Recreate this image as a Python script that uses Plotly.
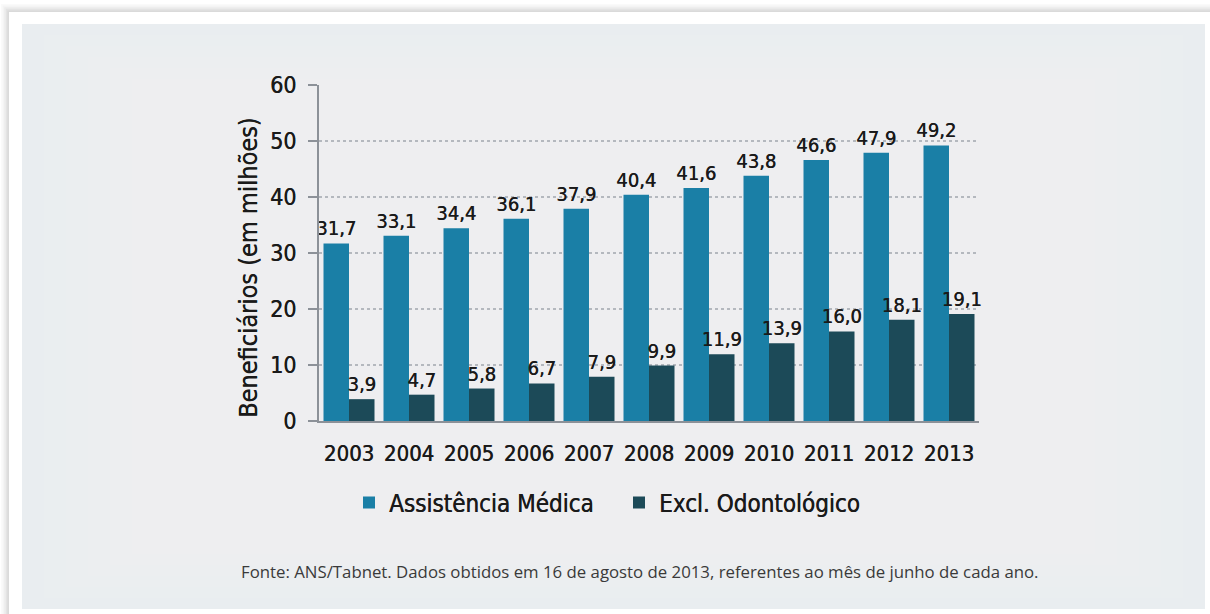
import plotly.graph_objects as go

# Beneficiários de planos de saúde, junho de cada ano (milhões)
anos = ["2003", "2004", "2005", "2006", "2007", "2008", "2009", "2010", "2011", "2012", "2013"]
assistencia_medica = [31.7, 33.1, 34.4, 36.1, 37.9, 40.4, 41.6, 43.8, 46.6, 47.9, 49.2]
excl_odontologico = [3.9, 4.7, 5.8, 6.7, 7.9, 9.9, 11.9, 13.9, 16.0, 18.1, 19.1]
y_ticks = [0, 10, 20, 30, 40, 50, 60]

COR_MEDICA = "#1a7fa6"
COR_ODONTO = "#1c4a58"
TEXTO = "#1a1a1a"
FONTE = "DejaVu Sans Condensed, DejaVu Sans, sans-serif"
SOMBRA = "0.4px 0 0 #1a1a1a"

rotulo = dict(family=FONTE, size=20, color=TEXTO, shadow=SOMBRA)

fig = go.Figure()
fig.add_trace(go.Bar(
    x=anos, y=assistencia_medica, name="Assistência Médica",
    marker=dict(color=COR_MEDICA, line=dict(width=0)),
    texttemplate="%{y:.1f}", textposition="outside", cliponaxis=False,
    constraintext="none", textfont=rotulo,
))
fig.add_trace(go.Bar(
    x=anos, y=excl_odontologico, name="Excl. Odontológico",
    marker=dict(color=COR_ODONTO, line=dict(width=0)),
    texttemplate="%{y:.1f}", textposition="outside", cliponaxis=False,
    constraintext="none", textfont=rotulo,
))

W, H = 1210, 614
L, R, T, B = 319, 231, 85, 193
pw, ph = W - L - R, H - T - B


def px_x(x):
    return (x - L) / pw


def px_y(y):
    return (H - B - y) / ph


shapes = []
# sombra da moldura
for i, op in enumerate([0.02, 0.025, 0.03, 0.035, 0.04]):
    d = 8 - i * 1.6
    shapes.append(dict(type="rect", xref="paper", yref="paper", layer="below",
                       x0=px_x(9 - d), x1=px_x(1215), y0=px_y(12 - d), y1=px_y(620),
                       line=dict(width=0), fillcolor=f"rgba(0,0,0,{op})"))
# moldura branca
shapes.append(dict(type="rect", xref="paper", yref="paper", layer="below",
                   x0=px_x(9), x1=px_x(1215), y0=px_y(12), y1=px_y(620),
                   line=dict(width=0), fillcolor="#ffffff"))
# painel cinza claro
shapes.append(dict(type="rect", xref="paper", yref="paper", layer="below",
                   x0=px_x(22), x1=px_x(1205), y0=px_y(24), y1=px_y(609),
                   line=dict(width=0), fillcolor="#e9edf0"))
# clareamento gradual no centro do painel
for k in range(1, 22):
    mx, my = 22 * k, 11 * k
    shapes.append(dict(type="rect", xref="paper", yref="paper", layer="below",
                       x0=px_x(22 + mx), x1=px_x(1205 - mx), y0=px_y(24 + my), y1=px_y(609 - my),
                       line=dict(width=0), fillcolor="rgba(255,255,255,0.055)"))

fig.update_layout(
    width=W, height=H,
    margin=dict(l=L, r=R, t=T, b=B, pad=0),
    paper_bgcolor="#ffffff",
    plot_bgcolor="rgba(0,0,0,0)",
    separators=",.",
    barmode="group",
    bargap=0.15,
    bargroupgap=0,
    font=dict(family=FONTE, color=TEXTO),
    showlegend=True,
    legend=dict(
        orientation="h", x=px_x(349), y=px_y(503), xanchor="left", yanchor="middle",
        font=dict(family=FONTE, size=24, color=TEXTO, shadow=SOMBRA),
        bgcolor="rgba(0,0,0,0)", itemwidth=30, traceorder="normal",
        entrywidth=225, borderwidth=0,
    ),
    shapes=shapes,
    annotations=[
        dict(text="Beneficiários (em milhões)", xref="paper", yref="paper",
             x=px_x(248), y=px_y(268), textangle=-90, showarrow=False,
             xanchor="center", yanchor="middle",
             font=dict(family=FONTE, size=25, color=TEXTO, shadow=SOMBRA)),
        dict(text="Fonte: ANS/Tabnet. Dados obtidos em 16 de agosto de 2013, referentes ao mês de junho de cada ano.",
             xref="paper", yref="paper", x=px_x(640), y=px_y(571), showarrow=False,
             xanchor="center", yanchor="middle",
             font=dict(family="Open Sans, sans-serif", size=16.8, color="#3a3a3a")),
    ],
)

fig.update_xaxes(
    type="category", showgrid=False, zeroline=False,
    showline=True, linecolor="#8c9198", linewidth=2,
    ticks="", ticklabelstandoff=12,
    tickfont=dict(family=FONTE, size=22, color=TEXTO, shadow=SOMBRA),
)
fig.update_yaxes(
    range=[0, 60], tickvals=y_ticks, zeroline=False,
    showgrid=True, gridcolor="#b4b8be", gridwidth=1.5, griddash="dot",
    showline=True, linecolor="#8c9198", linewidth=2,
    ticks="outside", ticklen=9, tickwidth=2, tickcolor="#8c9198",
    ticklabelstandoff=7,
    tickfont=dict(family=FONTE, size=23, color=TEXTO, shadow=SOMBRA),
)

fig.write_html("out.html")
